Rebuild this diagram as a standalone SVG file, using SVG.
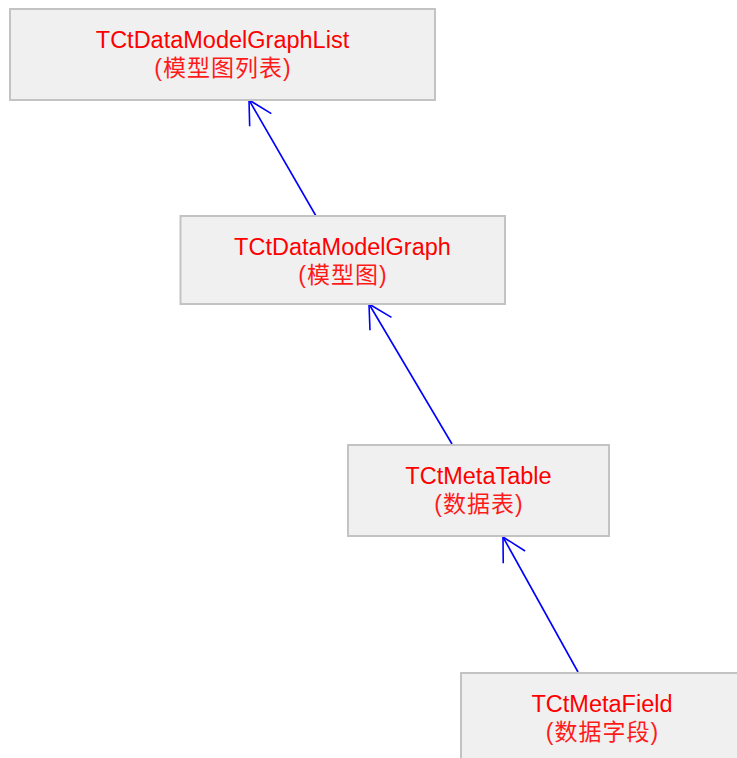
<svg xmlns="http://www.w3.org/2000/svg" width="737" height="758" viewBox="0 0 737 758">
<style>
.box{fill:#f0f0f0;stroke:#c3c3c3;stroke-width:2}
.t{font-family:"Liberation Sans","Noto Sans CJK SC",sans-serif;font-size:23.5px;fill:#ff0000;text-anchor:middle}
.c{font-family:"Liberation Sans","Noto Sans CJK SC",sans-serif;font-size:23px;fill:#ff1a1a;text-anchor:middle;letter-spacing:1px}
.edge{stroke:#0000ff;stroke-width:1.6;fill:none}
</style>
<defs>
<marker id="arr" markerUnits="userSpaceOnUse" markerWidth="60" markerHeight="60" refX="0" refY="0" viewBox="-30 -30 60 60" orient="auto" overflow="visible">
<path d="M-23,-12.5 L0,0 L-23,12.5" fill="none" stroke="#0000ff" stroke-width="1.6"/>
</marker>
</defs>
<rect width="737" height="758" fill="#ffffff"/>
<g id="connectors">
<line class="edge" x1="316" y1="216" x2="249" y2="100" marker-end="url(#arr)"/>
<line class="edge" x1="452" y1="444" x2="369" y2="304" marker-end="url(#arr)"/>
<line class="edge" x1="578" y1="672" x2="503" y2="537" marker-end="url(#arr)"/>
</g>
<g id="TCtDataModelGraphList">
<rect class="box" x="10" y="9" width="425" height="91"/>
<text class="t" x="222.5" y="47.5">TCtDataModelGraphList</text>
<text class="c" x="223" y="76">(模型图列表)</text>
</g>
<g id="TCtDataModelGraph">
<rect class="box" x="180.5" y="216" width="324.5" height="88"/>
<text class="t" x="342.5" y="254.5">TCtDataModelGraph</text>
<text class="c" x="343" y="283">(模型图)</text>
</g>
<g id="TCtMetaTable">
<rect class="box" x="348" y="445" width="261" height="91"/>
<text class="t" x="478.5" y="483.5">TCtMetaTable</text>
<text class="c" x="479" y="512">(数据表)</text>
</g>
<g id="TCtMetaField">
<rect class="box" x="461" y="673" width="283" height="92"/>
<text class="t" x="602" y="711.5">TCtMetaField</text>
<text class="c" x="602.5" y="740">(数据字段)</text>
</g>
</svg>
